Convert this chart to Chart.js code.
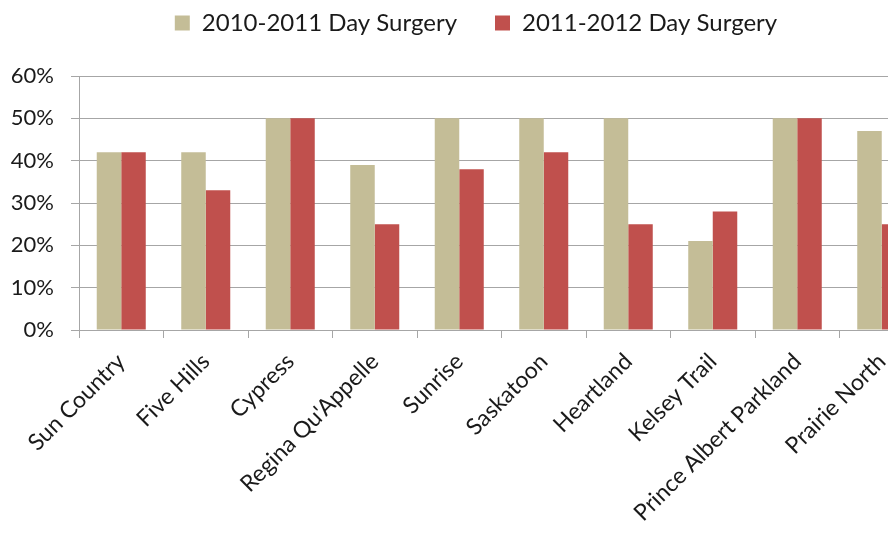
<!DOCTYPE html>
<html>
<head>
<meta charset="utf-8">
<script src="https://cdn.jsdelivr.net/npm/chart.js@4.4.1/dist/chart.umd.min.js"></script>
<style>
  html, body { margin: 0; padding: 0; background: #fff; overflow: hidden; }
  #wrap { position: relative; width: 952px; height: 535px; }
</style>
</head>
<body>
<div id="wrap"><canvas id="chart"></canvas></div>
<script>
const regions = ["Sun Country", "Five Hills", "Cypress", "Regina Qu'Appelle", "Sunrise", "Saskatoon", "Heartland", "Kelsey Trail", "Prince Albert Parkland", "Prairie North"];
const daySurgery2010 = [42, 42, 50, 39, 50, 50, 50, 21, 50, 47];
const daySurgery2011 = [42, 33, 50, 25, 38, 42, 25, 28, 50, 25];
const seriesLabels = ["2010-2011 Day Surgery", "2011-2012 Day Surgery"];
const seriesColors = ["#c4bd97", "#c0504d"];

const fontFamily = "Lato, 'Open Sans', sans-serif";
const gridColor = "#a6a6a6";
const legendPadding = 38;

// legend sits higher and a bit further right than chart.js would put it
const legendShift = {
  id: "legendShift",
  beforeInit(chart) {
    const fit = chart.legend.fit;
    chart.legend.fit = function () {
      fit.bind(chart.legend)();
      this.height = 76;
    };
  },
  afterLayout(chart) {
    const dy = legendPadding - 11;
    chart.legend.top -= dy;
    chart.legend.bottom -= dy;
    chart.legend.left += 14;
    chart.legend.right += 14;
  }
};

const data = {
  labels: regions,
  datasets: seriesLabels.map((label, i) => ({
    label: label,
    data: i == 0 ? daySurgery2010 : daySurgery2011,
    backgroundColor: seriesColors[i],
    borderWidth: 0,
    barPercentage: 1.0,
    categoryPercentage: 0.58
  }))
};

const config = {
  type: "bar",
  data,
  options: {
    responsive: true,
    maintainAspectRatio: false,
    animation: false,
    layout: {
      padding: { left: 0, right: 28, top: 0, bottom: 0 }
    },
    plugins: {
      legend: {
        position: "top",
        labels: {
          font: { family: fontFamily, size: 24 },
          color: "#1a1a1a",
          boxWidth: 15,
          boxHeight: 15,
          padding: legendPadding
        }
      },
      tooltip: { enabled: false }
    },
    scales: {
      x: {
        offset: true,
        border: { color: gridColor, width: 1 },
        grid: {
          drawOnChartArea: false,
          drawTicks: true,
          tickLength: 8,
          color: gridColor
        },
        ticks: {
          autoSkip: false,
          minRotation: 45,
          maxRotation: 45,
          padding: 10,
          color: "#1a1a1a",
          font: { family: fontFamily, size: 23 }
        },
        afterFit(scale) {
          scale.height = 205;
        }
      },
      y: {
        min: 0,
        max: 60,
        border: { color: gridColor, width: 1 },
        grid: {
          color: gridColor,
          tickLength: 8,
          lineWidth: 1
        },
        ticks: {
          stepSize: 10,
          padding: 17,
          color: "#1a1a1a",
          font: { family: fontFamily, size: 22 },
          callback: v => v + "%"
        },
        afterFit(scale) {
          scale.width = 79;
        }
      }
    }
  },
  plugins: [ legendShift ]
};

Chart.defaults.font.family = fontFamily;
new Chart(document.getElementById("chart"), config);
</script>
</body>
</html>
